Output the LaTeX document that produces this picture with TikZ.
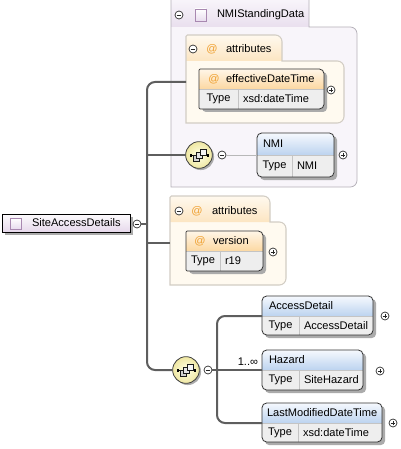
\documentclass[tikz,border=0pt]{standalone}
\usepackage{fontspec}
\setmainfont{Liberation Sans}
\usetikzlibrary{shadows}
\definecolor{linec}{HTML}{5E5E5E}
\definecolor{thinc}{HTML}{B8B8B8}
\definecolor{grpborder}{HTML}{B4B0B8}
\definecolor{purpbody}{HTML}{F8F5FA}
\definecolor{purptabtop}{HTML}{F9F6FB}
\definecolor{purptabbot}{HTML}{E9DFEE}
\definecolor{attrbody}{HTML}{FFFAF0}
\definecolor{attrtabtop}{HTML}{FFF9EE}
\definecolor{attrtabbot}{HTML}{FCE5C2}
\definecolor{attrborder}{HTML}{D2CDC4}
\definecolor{ahtop}{HTML}{FFF6E8}
\definecolor{ahbot}{HTML}{FCD8A2}
\definecolor{ehtop}{HTML}{F6F9FE}
\definecolor{ehbot}{HTML}{BCD3EF}
\definecolor{typec}{HTML}{EEEEEE}
\definecolor{divc}{HTML}{C4C4C4}
\definecolor{shadowc}{HTML}{ABABAB}
\definecolor{atc}{HTML}{EFA030}
\definecolor{seqin}{HTML}{FFFFE6}
\definecolor{seqout}{HTML}{EFE7A2}
\definecolor{iconb}{HTML}{A888B0}
\definecolor{iconf}{HTML}{E8DCEE}
\definecolor{mainbot}{HTML}{E6D8EB}
\newcommand\xbox[9]{%
 \fill[shadowc, rounded corners=3pt] (#2+3,#3+3) rectangle (#4+3,#5+3);
 \begin{scope}
 \clip[#8corner] (#2,#5) -- (#2,#3) [rounded corners=3.5pt] -- (#4,#3) -- (#4,#5) [#8corner] -- cycle;
 \shade[#8head] (#2,#3) rectangle (#4,#6);
 \fill[typec] (#2,#6) rectangle (#4,#5);
 \end{scope}
 \draw[divc, line width=0.5pt] (#2,#6) -- (#4,#6) (#7,#6) -- (#7,#5);
 \draw[boxline, #8corner] (#2,#5) -- (#2,#3) [rounded corners=3.5pt] -- (#4,#3) -- (#4,#5) [#8corner] -- cycle;
 \coordinate (#1) at (#2,#6);
 \node (#1-tl) at ({(#2+#7)/2},{(#6+#5)/2}) {Type};
 \node[anchor=west] (#1-tv) at (#7+5,{(#6+#5)/2}) {#9};
}
\newcommand\seqicon[1]{%
 \begin{scope}[shift={(#1.center)}]
 \draw[line width=0.6pt] (-8,0.5) -- (9,0.5);
 \fill (-9.5,-0.8) rectangle (-7,1.8);
 \fill (7.5,-0.8) rectangle (10,1.8);
 \filldraw[fill=gray!35, draw=black!90, line width=0.55pt] (-6,0.5) rectangle (0,6.5);
 \filldraw[fill=gray!20, draw=black!90, line width=0.55pt] (-3,-2.5) rectangle (3,3.5);
 \filldraw[fill=gray!8, draw=black!90, line width=0.55pt] (1,-6) rectangle (7,0);
 \end{scope}
}
\tikzset{
 attrcorner/.style={rounded corners=0.8pt},
 elemcorner/.style={rounded corners=3.5pt},
 attrhead/.style={top color=ahtop, bottom color=ahbot},
 elemhead/.style={top color=ehtop, bottom color=ehbot},
 boxline/.style={draw=black!80, line width=0.6pt},
 trunk/.style={draw=linec, line width=1.5pt},
 thinline/.style={draw=thinc, line width=0.6pt},
 pmc/.style={circle, draw=black!85, fill=white, minimum size=6pt, inner sep=0, line width=0.5pt},
 minus/.style={pmc, path picture={\draw[line width=0.55pt] ([xshift=-1.7pt]path picture bounding box.center) -- ([xshift=1.7pt]path picture bounding box.center);}},
 plus/.style={pmc, path picture={\draw[line width=0.55pt] ([xshift=-1.7pt]path picture bounding box.center) -- ([xshift=1.7pt]path picture bounding box.center) ([yshift=-1.7pt]path picture bounding box.center) -- ([yshift=1.7pt]path picture bounding box.center);}},
 seqball/.style={circle, draw=black!75, line width=0.6pt, minimum size=20pt, inner sep=0, inner color=seqin, outer color=seqout, drop shadow={shadow xshift=1.3pt, shadow yshift=-1.3pt, fill=shadowc, opacity=1}},
 atsign/.style={text=atc},
}
\begin{document}
\begin{tikzpicture}[x=0.75pt,y=-0.75pt, font=\fontsize{8.3}{9.8}\selectfont, every node/.style={inner sep=0, outer sep=0}]
\useasboundingbox (0,0) rectangle (400,449);
% ---------- NMIStandingData group
\fill[purpbody] (171,187) -- (171,27) [rounded corners=5pt] -- (357,27) -- (357,187) [sharp corners] -- cycle;
\shade[top color=purptabtop, bottom color=purptabbot] (171,-2) rectangle (309,27);
\draw[grpborder, line width=0.6pt] (309,-2) -- (309,27) [rounded corners=5pt] -- (357,27) -- (357,187) [sharp corners] -- (171,187) -- (171,-2);
\node[minus] (m1) at (179,15) {};
\draw[iconb, top color=white, bottom color=iconf, line width=0.6pt] (195,9) rectangle (206,21);
\node[anchor=west] (nsd) at (217,15) {NMIStandingData};
% inner attributes group
\fill[attrbody] (186,123) -- (186,61) [rounded corners=5pt] -- (344,61) -- (344,123) [sharp corners] -- cycle;
\shade[top color=attrtabtop, bottom color=attrtabbot] (186,61) [rounded corners=1pt] -- (186,35) [rounded corners=5pt] -- (282,35) [sharp corners] -- (282,61) -- cycle;
\draw[attrborder, line width=0.8pt] (186,61) [rounded corners=1pt] -- (186,35) [rounded corners=5pt] -- (282,35) [sharp corners] -- (282,61) [rounded corners=5pt] -- (344,61) -- (344,123) [sharp corners] -- (186,123) -- cycle;
\node[minus] (m2) at (193,49) {};
\node[atsign] (at1) at (212,49) {@};
\node[anchor=west] (attr1) at (226,49) {attributes};
\xbox{edt}{199}{69}{324}{109}{89}{238}{attr}{xsd:dateTime}
\node[atsign] (at2) at (214,79) {@};
\node[anchor=west] (edtt) at (226,79) {effectiveDateTime};
\node[plus] (p1) at (331,90) {};
\coordinate (a1) at (186,82);
% sequence 1
\node[seqball] (s1) at (199,155) {};
\seqicon{s1}
\node[minus] (m3) at (222,155) {};
\xbox{nmi}{257}{133}{334}{177}{155}{292}{elem}{NMI}
\node[anchor=west] (nmit) at (263,144) {NMI};
\node[plus] (p2) at (343,155) {};
\draw[thinline] (m3.east) -- (nmi);
% ---------- attributes group 2
\fill[attrbody] (170,285) -- (170,222) [rounded corners=5pt] -- (286,222) -- (286,285) [sharp corners] -- cycle;
\shade[top color=attrtabtop, bottom color=attrtabbot] (170,222) [rounded corners=1pt] -- (170,196) [rounded corners=5pt] -- (270,196) [sharp corners] -- (270,222) -- cycle;
\draw[attrborder, line width=0.8pt] (170,222) [rounded corners=1pt] -- (170,196) [rounded corners=5pt] -- (270,196) [sharp corners] -- (270,222) [rounded corners=5pt] -- (286,222) -- (286,285) [sharp corners] -- (170,285) -- cycle;
\node[minus] (m4) at (179,211) {};
\node[atsign] (at3) at (197,211) {@};
\node[anchor=west] (attr2) at (212,211) {attributes};
\xbox{ver}{186}{231}{263}{271}{251}{220}{attr}{r19}
\node[atsign] (at4) at (200,241) {@};
\node[anchor=west] (vert) at (213,241) {version};
\node[plus] (p3) at (273,252) {};
\coordinate (a2) at (170,243);
% ---------- main element
\fill[shadowc] (5,217) rectangle (133,235);
\shade[top color=white!60!purptabtop, bottom color=mainbot, draw=black, line width=0.7pt] (2,214) rectangle (130,232);
\draw[iconb, top color=white, bottom color=iconf, line width=0.6pt] (10,218) rectangle (21,229);
\node[anchor=west] (sad) at (32,223) {SiteAccessDetails};
\node[minus] (mm) at (137,224) {};
% ---------- sequence 2
\node[seqball] (s2) at (186,370) {};
\seqicon{s2}
\node[minus] (m5) at (208,370) {};
\xbox{ad}{262}{296}{373}{335}{316}{299}{elem}{AccessDetail}
\node[anchor=west] (adt) at (269,306) {AccessDetail};
\node[plus] (p4) at (385,316) {};
\xbox{hz}{262}{350}{363}{390}{370}{299}{elem}{SiteHazard}
\node[anchor=west] (hzt) at (269,360) {Hazard};
\node[plus] (p5) at (380,371) {};
\node[anchor=east] (card) at (258,362) {1..∞};
\xbox{lm}{262}{403}{382}{442}{423}{298}{elem}{xsd:dateTime}
\node[anchor=west] (lmt) at (267,413) {LastModifiedDateTime};
\node[plus] (p6) at (393,423) {};
% ---------- connectors
\coordinate (tx) at (147,224);
\coordinate (bx) at (217,370);
\draw[trunk, rounded corners=6pt] (a1) -- (a1 -| tx) -- (s2 -| tx) -- (s2.west);
\draw[trunk] (mm.east) -- (tx);
\draw[trunk] (s1.west) -- (s1 -| tx);
\draw[trunk] (a2) -- (a2 -| tx);
\draw[trunk, rounded corners=6pt] (ad) -- (ad -| bx) -- (lm -| bx) -- (lm);
\draw[trunk] (m5.east) -- (hz);
\end{tikzpicture}
\end{document}
